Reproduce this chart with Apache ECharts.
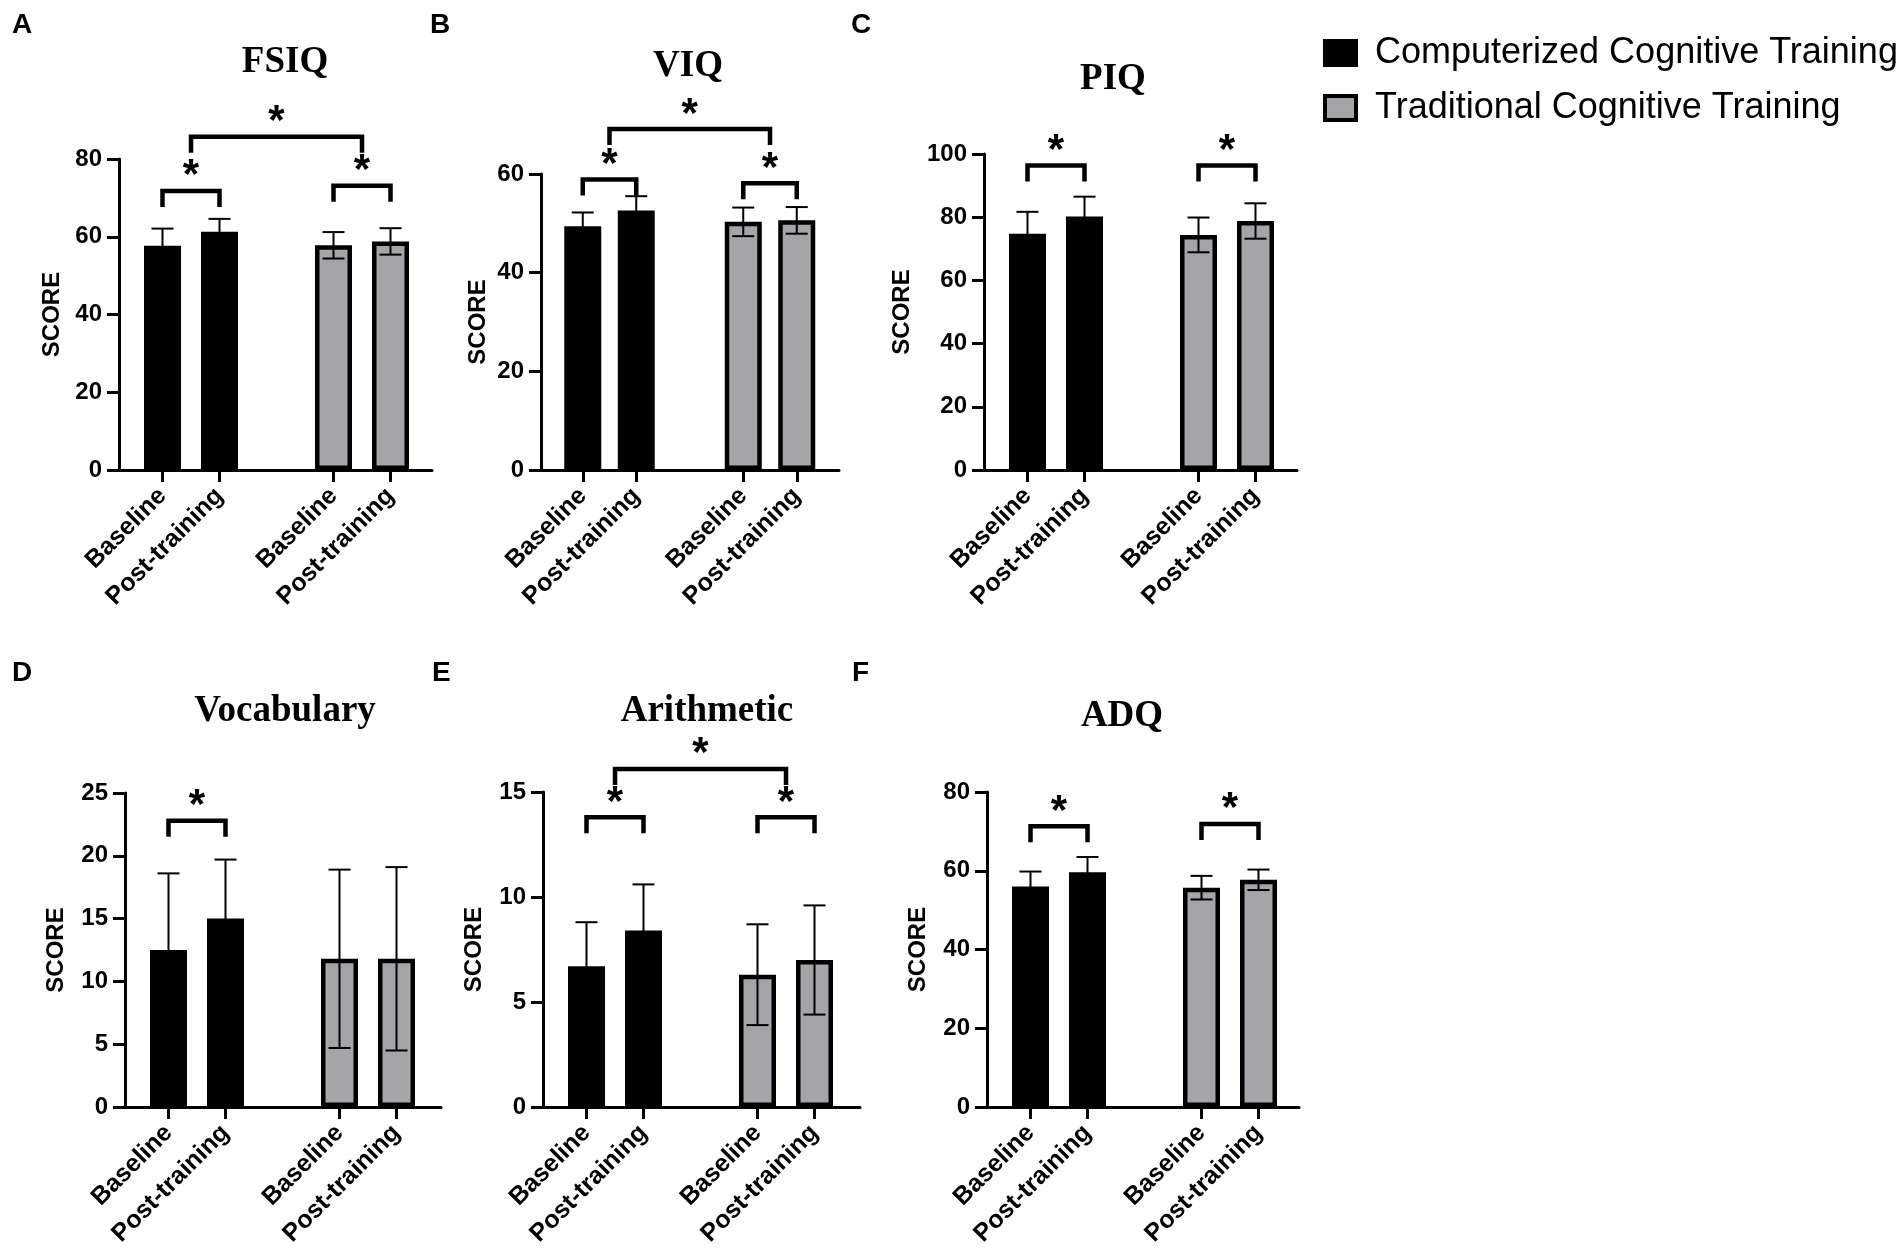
<!DOCTYPE html>
<html>
<head>
<meta charset="utf-8">
<title>Cognitive training scores</title>
<script src="https://cdn.jsdelivr.net/npm/echarts@6.0.0/dist/echarts.min.js"></script>
<style>
html, body { margin: 0; padding: 0; background: #fff; }
#chart { width: 1904px; height: 1254px; }
</style>
</head>
<body>
<div id="chart"></div>
<script>
var groupNames = ['Computerized Cognitive Training', 'Traditional Cognitive Training'];
var timeLabels = ['Baseline', 'Post-training'];
var panelTitles = ['FSIQ', 'VIQ', 'PIQ', 'Vocabulary', 'Arithmetic', 'ADQ'];
var panelLetters = ['A', 'B', 'C', 'D', 'E', 'F'];

// order in every list: CCT baseline, CCT post, TCT baseline, TCT post
var fsiqMean = [57.7, 61.3, 57.8, 58.8];
var fsiqSd = [4.4, 3.3, 3.4, 3.4];
var viqMean = [49.4, 52.6, 50.3, 50.6];
var viqSd = [2.8, 2.9, 2.9, 2.7];
var piqMean = [74.8, 80.2, 74.4, 78.8];
var piqSd = [6.9, 6.3, 5.5, 5.6];
var vocabMean = [12.5, 15.0, 11.8, 11.8];
var vocabSd = [6.1, 4.7, 7.1, 7.3];
var arithMean = [6.7, 8.4, 6.3, 7.0];
var arithSd = [2.1, 2.2, 2.4, 2.6];
var adqMean = [56.0, 59.6, 55.7, 57.7];
var adqSd = [3.8, 3.9, 3.0, 2.6];

var yMax = [80, 60, 100, 25, 15, 80];
var yStep = [20, 20, 20, 5, 5, 20];

// brackets: [left a, left b, right a, right b, height]; an end sits midway between bars a and b
var fsiqSig = [[0, 0, 1, 1, 71.8], [2, 2, 3, 3, 73.1], [0, 1, 2, 3, 85.7]];
var viqSig = [[0, 0, 1, 1, 58.9], [2, 2, 3, 3, 58.1], [0, 1, 2, 3, 69.1]];
var piqSig = [[0, 0, 1, 1, 96.4], [2, 2, 3, 3, 96.4]];
var vocabSig = [[0, 0, 1, 1, 22.8]];
var arithSig = [[0, 0, 1, 1, 13.8], [2, 2, 3, 3, 13.8], [0, 1, 2, 3, 16.1]];
var adqSig = [[0, 0, 1, 1, 71.3], [2, 2, 3, 3, 71.9]];

var means = [fsiqMean, viqMean, piqMean, vocabMean, arithMean, adqMean];
var sds = [fsiqSd, viqSd, piqSd, vocabSd, arithSd, adqSd];
var sigs = [fsiqSig, viqSig, piqSig, vocabSig, arithSig, adqSig];

// bars sit in slots 0,1 and 3,4; slot 2 is the gap between groups
var categories = [timeLabels[0], timeLabels[1], '', timeLabels[0], timeLabels[1]];
var barSlot = [0, 1, 3, 4];

// page layout (px)
var layout = [
    { ax: 119, top: 159, h: 311, len: 313, inset: 15, slot: 57, gap: 55, tx: 285, ty: 62, lx: 12, ly: 11 },
    { ax: 541, top: 174, h: 296, len: 298, inset: 15, slot: 53.5, gap: 51, tx: 688, ty: 66, lx: 430, ly: 11 },
    { ax: 984, top: 154, h: 316, len: 313, inset: 15, slot: 57, gap: 70, tx: 1113, ty: 79, lx: 851, ly: 11 },
    { ax: 125, top: 793, h: 314, len: 316, inset: 15, slot: 57, gap: 57, tx: 285, ty: 711, lx: 12, ly: 659 },
    { ax: 543, top: 792, h: 315, len: 317, inset: 15, slot: 57, gap: 57, tx: 707, ty: 711, lx: 432, ly: 659 },
    { ax: 987, top: 792, h: 315, len: 312, inset: 15, slot: 57, gap: 57, tx: 1122, ty: 716, lx: 852, ly: 659 }
];

var SANS = '"Liberation Sans", Arial, sans-serif';
var SERIF = '"Liberation Serif", "Times New Roman", serif';
var GRAY = '#a5a5a9';

function renderErr(params, api) {
    var x = api.value(0), m = api.value(1), sd = api.value(2);
    var hi = api.coord([x, m + sd]);
    var lo = api.coord([x, m - sd]);
    var cap = 11;
    var st = { stroke: '#000', lineWidth: 2 };
    return {
        type: 'group',
        children: [
            { type: 'line', shape: { x1: hi[0], y1: hi[1], x2: lo[0], y2: lo[1] }, style: st },
            { type: 'line', shape: { x1: hi[0] - cap, y1: hi[1], x2: hi[0] + cap, y2: hi[1] }, style: st },
            { type: 'line', shape: { x1: lo[0] - cap, y1: lo[1], x2: lo[0] + cap, y2: lo[1] }, style: st }
        ]
    };
}

function renderSig(params, api) {
    var y = api.value(1);
    var x1 = (api.coord([api.value(0), y])[0] + api.coord([api.value(2), y])[0]) / 2;
    var x2 = (api.coord([api.value(3), y])[0] + api.coord([api.value(4), y])[0]) / 2;
    var py = api.coord([api.value(0), y])[1];
    var leg = 16;
    return {
        type: 'group',
        children: [
            {
                type: 'polyline',
                shape: { points: [[x1, py + leg], [x1, py], [x2, py], [x2, py + leg]] },
                style: { stroke: '#000', lineWidth: 4.5, fill: null, lineJoin: 'miter' }
            },
            {
                type: 'text',
                x: (x1 + x2) / 2,
                y: py - 14,
                style: {
                    text: '*', fill: '#000', fontSize: 42, fontWeight: 'bold', fontFamily: SANS,
                    align: 'center', verticalAlign: 'middle'
                }
            }
        ]
    };
}

var grids = [], xAxes = [], yAxes = [], series = [], graphics = [];

for (var i = 0; i < 6; i++) {
    var L = layout[i];
    var frame = i * 2, inner = i * 2 + 1;

    grids.push({ left: L.ax, top: L.top, width: L.len, height: L.h, outerBoundsMode: 'none' });
    grids.push({ left: L.ax + L.inset, top: L.top, width: L.slot * 5, height: L.h, outerBoundsMode: 'none' });

    xAxes.push({
        gridIndex: frame, type: 'value', min: 0, max: 1,
        axisLine: { show: true, onZero: false, lineStyle: { color: '#000', width: 3 } },
        axisTick: { show: false }, axisLabel: { show: false }, splitLine: { show: false }
    });
    xAxes.push({
        gridIndex: inner, type: 'category', data: categories,
        axisLine: { show: false },
        axisTick: {
            show: true, alignWithLabel: true, length: 12,
            interval: function (idx, val) { return val !== ''; },
            lineStyle: { color: '#000', width: 3 }
        },
        axisLabel: {
            interval: 0, rotate: 45, margin: 22, color: '#000',
            fontSize: 25, fontWeight: 'bold', fontFamily: SANS
        },
        splitLine: { show: false }
    });

    yAxes.push({
        gridIndex: frame, type: 'value', min: 0, max: yMax[i], interval: yStep[i],
        name: 'SCORE', nameLocation: 'middle', nameRotate: 90, nameGap: L.gap,
        nameTextStyle: { color: '#000', fontSize: 24, fontWeight: 'bold', fontFamily: SANS },
        axisLine: { show: true, lineStyle: { color: '#000', width: 3 } },
        axisTick: { show: true, length: 12, lineStyle: { color: '#000', width: 3 } },
        axisLabel: { margin: 17, color: '#000', fontSize: 24, fontWeight: 'bold', fontFamily: SANS },
        splitLine: { show: false }
    });
    yAxes.push({ gridIndex: inner, type: 'value', min: 0, max: yMax[i], show: false });

    var m = means[i], s = sds[i];
    var cct = ['-', '-', '-', '-', '-'], tct = ['-', '-', '-', '-', '-'];
    cct[barSlot[0]] = m[0]; cct[barSlot[1]] = m[1];
    tct[barSlot[2]] = m[2]; tct[barSlot[3]] = m[3];

    series.push({
        name: groupNames[0], type: 'bar', xAxisIndex: inner, yAxisIndex: inner,
        data: cct, barWidth: 37, barGap: '-100%',
        itemStyle: { color: '#000', borderColor: '#000', borderWidth: 4 }
    });
    series.push({
        name: groupNames[1], type: 'bar', xAxisIndex: inner, yAxisIndex: inner,
        data: tct, barWidth: 37, barGap: '-100%',
        itemStyle: { color: GRAY, borderColor: '#000', borderWidth: 4.5 }
    });

    var errData = [];
    for (var k = 0; k < 4; k++) errData.push([barSlot[k], m[k], s[k]]);
    series.push({
        type: 'custom', xAxisIndex: inner, yAxisIndex: inner, z: 5, clip: false,
        renderItem: renderErr, data: errData, silent: true
    });

    var sigData = sigs[i].map(function (b) {
        return [barSlot[b[0]], b[4], barSlot[b[1]], barSlot[b[2]], barSlot[b[3]]];
    });
    series.push({
        type: 'custom', xAxisIndex: inner, yAxisIndex: inner, z: 6, clip: false,
        renderItem: renderSig, data: sigData, silent: true
    });

    graphics.push({
        type: 'text', x: L.tx, y: L.ty,
        style: {
            text: panelTitles[i], fill: '#000', fontSize: 37, fontWeight: 'bold', fontFamily: SERIF,
            align: 'center', verticalAlign: 'middle'
        }
    });
    graphics.push({
        type: 'text', x: L.lx, y: L.ly,
        style: {
            text: panelLetters[i], fill: '#000', fontSize: 28, fontWeight: 'bold', fontFamily: SANS,
            align: 'left', verticalAlign: 'top'
        }
    });
}

var chart = echarts.init(document.getElementById('chart'));
chart.setOption({
    animation: false,
    backgroundColor: '#fff',
    grid: grids,
    xAxis: xAxes,
    yAxis: yAxes,
    series: series,
    graphic: graphics,
    legend: {
        orient: 'vertical', left: 1318, top: 30,
        itemWidth: 31, itemHeight: 24, itemGap: 19,
        selectedMode: false,
        data: [
            { name: groupNames[0], icon: 'rect', itemStyle: { color: '#000', borderColor: '#000', borderWidth: 4 } },
            { name: groupNames[1], icon: 'rect', itemStyle: { color: GRAY, borderColor: '#000', borderWidth: 4 } }
        ],
        textStyle: { color: '#000', fontSize: 36, fontFamily: SANS, padding: [0, 0, 0, 14] }
    }
});
</script>
</body>
</html>
